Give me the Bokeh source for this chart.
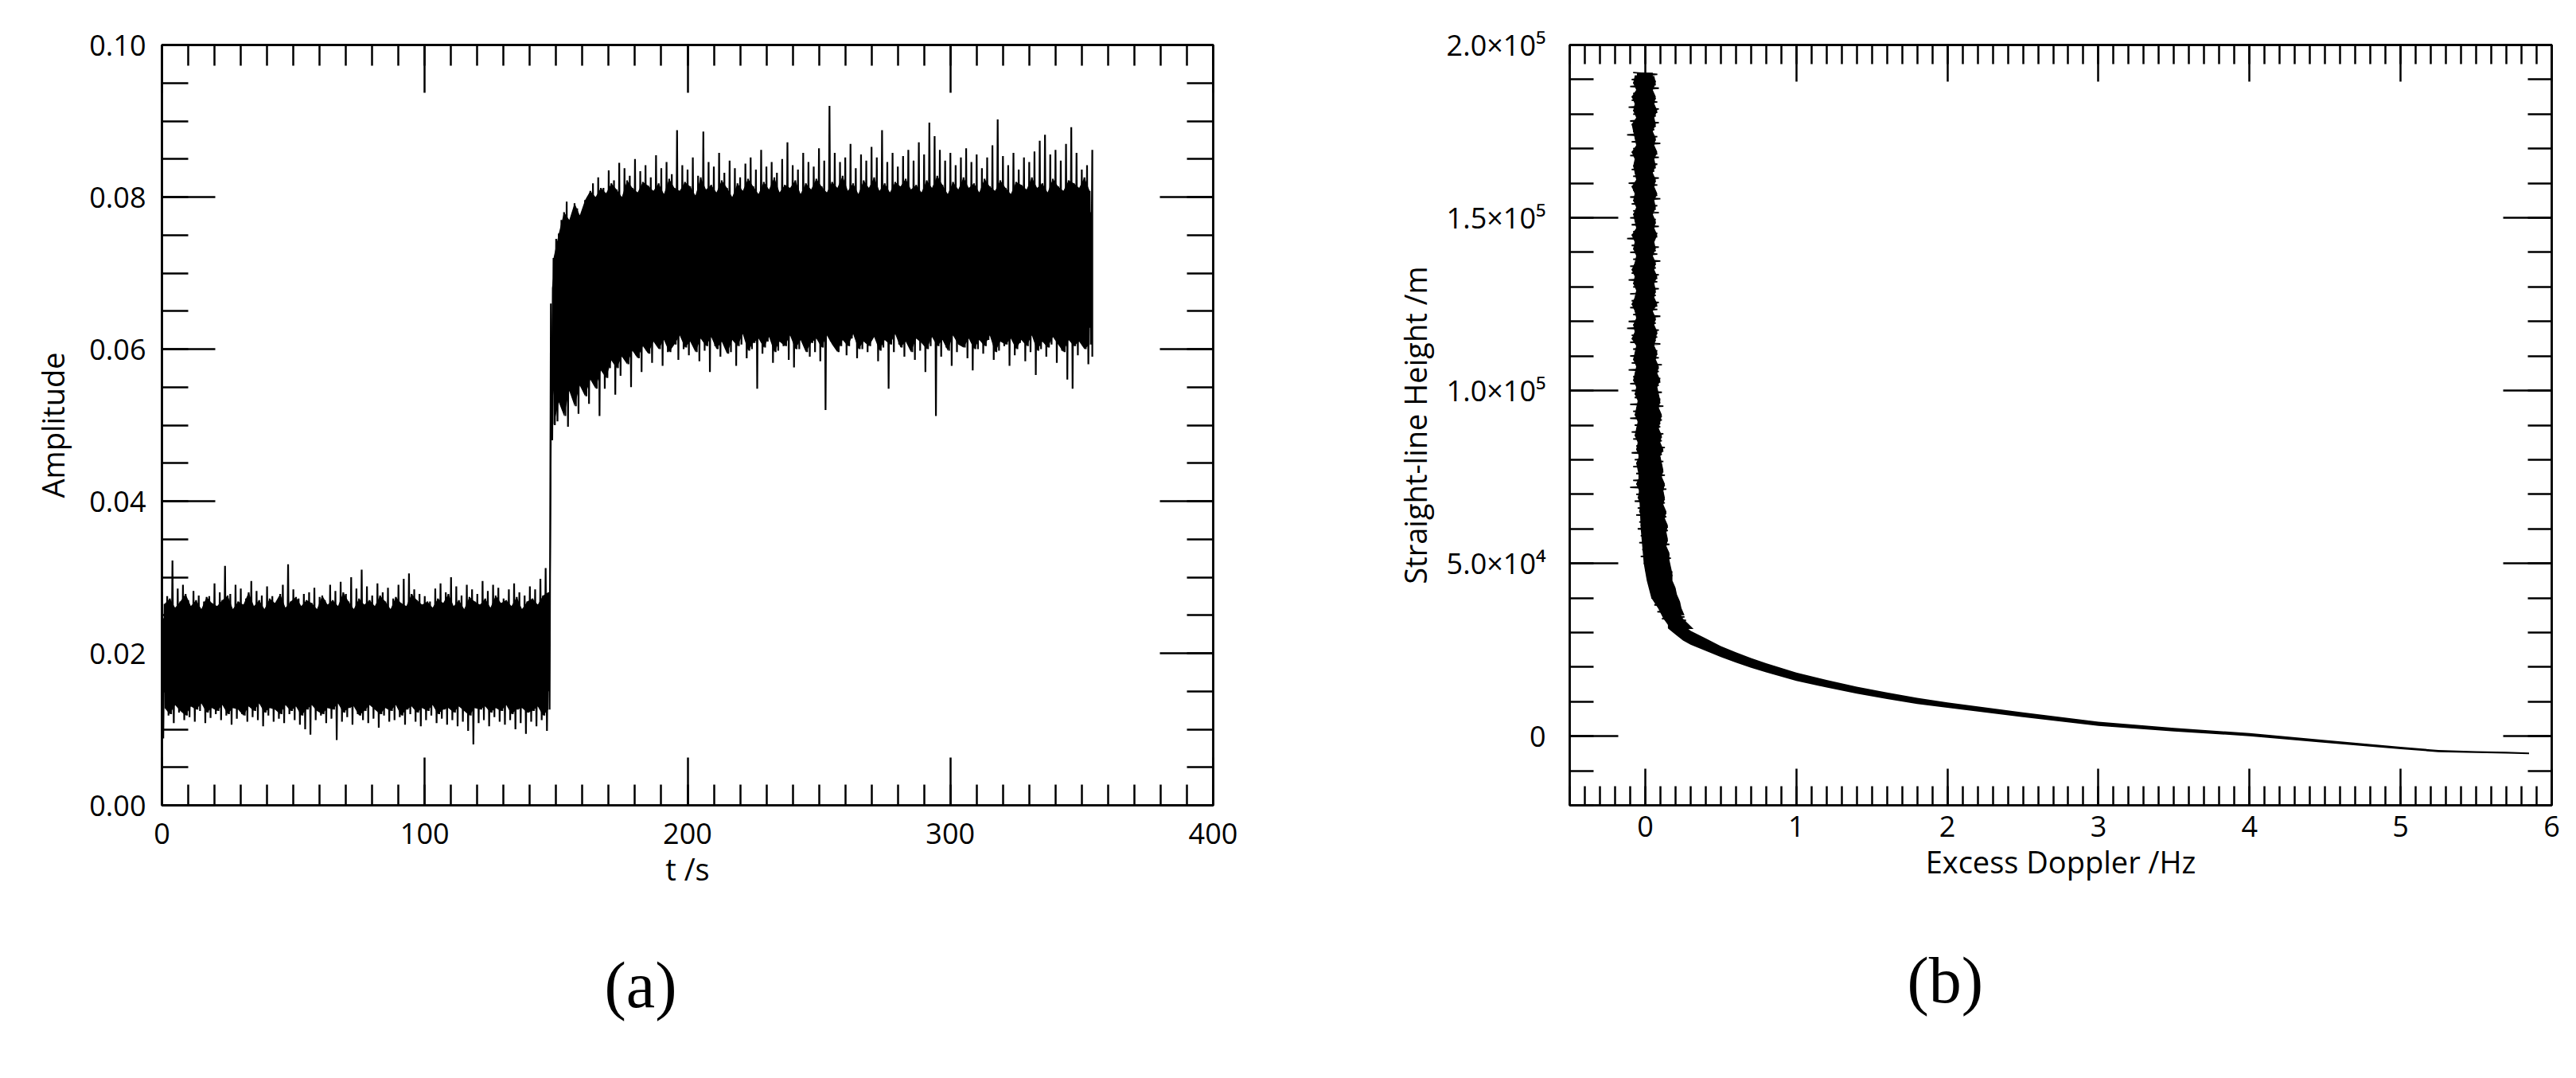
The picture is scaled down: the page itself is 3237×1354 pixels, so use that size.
import numpy as np
from bokeh.plotting import figure
from bokeh.models import (LinearAxis, SingleIntervalTicker, PrintfTickFormatter,
                          CustomJSTickFormatter, Range1d, Title)
from bokeh.layouts import row
from bokeh.embed import file_html
from bokeh.resources import INLINE

FONT = "Open Sans"

# ---------------- (a) amplitude vs time ----------------
# trace tips (units of 1e-4): hi at integer t, lo at t+0.5
# even seconds, t = 0..146 (quiet part)
amp_hi_a = [280, 275, 322, 285, 290, 270, 282, 276, 268, 275,
            292, 280, 315, 278, 290, 285, 272, 295, 282, 276,
            288, 275, 268, 290, 317, 284, 272, 278, 280, 286,
            274, 270, 290, 282, 294, 278, 300, 285, 310, 288,
            276, 292, 280, 286, 272, 290, 298, 305, 284, 278,
            275, 268, 285, 292, 280, 300, 288, 276, 290, 284,
            278, 295, 282, 290, 286, 272, 284, 292, 280, 276,
            288, 284, 298, 312]
amp_lo_a = [88, 118, 108, 122, 112, 116, 110, 124, 108, 115,
            120, 112, 118, 106, 114, 120, 110, 116, 112, 104,
            118, 110, 114, 108, 120, 112, 106, 100, 93, 112,
            118, 108, 114, 86, 110, 116, 106, 120, 112, 108,
            114, 102, 118, 110, 112, 116, 106, 120, 110, 104,
            112, 118, 108, 114, 106, 112, 104, 110, 98, 80,
            108, 112, 104, 116, 110, 106, 112, 100, 108, 94,
            110, 104, 112, 98]
# odd seconds, t = 1..147
amp_hi_a_odd = [265, 272, 260, 268, 278, 262, 270, 258, 274, 266,
                262, 270, 276, 258, 268, 264, 280, 262, 270, 258,
                272, 266, 278, 260, 268, 274, 262, 270, 266, 258,
                276, 264, 270, 262, 280, 268, 258, 272, 264, 270,
                262, 276, 268, 258, 274, 266, 262, 278, 270, 264,
                268, 260, 272, 266, 278, 262, 270, 258, 274, 268,
                264, 272, 260, 276, 266, 270, 262, 274, 258, 268,
                272, 264, 276, 280]
amp_lo_a_odd = [128, 120, 132, 124, 118, 130, 126, 134, 122, 128,
                124, 132, 120, 128, 126, 118, 130, 124, 134, 122,
                128, 126, 120, 132, 124, 130, 118, 126, 132, 124,
                120, 128, 126, 134, 122, 128, 130, 118, 124, 132,
                126, 120, 128, 124, 132, 118, 126, 130, 122, 128,
                124, 132, 120, 126, 128, 122, 130, 124, 118, 128,
                126, 130, 122, 128, 124, 132, 120, 126, 128, 122,
                124, 130, 118, 126]
# even seconds, t = 148..354 (after the step)
amp_hi_b = [660, 745, 770, 794, 765, 785, 772, 800, 818, 826,
            812, 835, 822, 845, 838, 828, 850, 834, 842, 826,
            855, 838, 846, 830, 888, 842, 836, 852, 828, 886,
            846, 840, 858, 832, 848, 838, 826, 844, 852, 836,
            862, 840, 846, 832, 850, 872, 842, 836, 858, 846,
            840, 864, 848, 920, 858, 846, 852, 870, 838, 856,
            848, 866, 852, 888, 846, 858, 840, 854, 862, 848,
            872, 856, 898, 880, 862, 848, 858, 842, 852, 864,
            846, 856, 838, 852, 868, 902, 854, 842, 858, 836,
            852, 846, 860, 874, 882, 856, 862, 848, 870, 892,
            858, 836, 842, 862]
amp_lo_b = [480, 505, 520, 498, 535, 515, 545, 528, 560, 512,
            548, 575, 540, 565, 585, 550, 592, 570, 598, 582,
            604, 578, 596, 610, 586, 600, 592, 612, 584, 598,
            570, 604, 590, 612, 596, 578, 606, 588, 600, 548,
            594, 610, 582, 598, 604, 586, 576, 600, 612, 590,
            596, 584, 520, 610, 636, 604, 592, 614, 588, 600,
            596, 616, 584, 602, 548, 596, 606, 590, 612, 586,
            598, 570, 604, 512, 590, 602, 578, 596, 610, 588,
            572, 600, 594, 612, 586, 598, 604, 578, 592, 608,
            584, 596, 566, 600, 590, 606, 582, 598, 560, 548,
            592, 604, 580, 590]
# odd seconds, t = 149..353
amp_hi_b_odd = [720, 752, 780, 770, 792, 776, 796, 808, 800, 812,
                805, 818, 810, 800, 822, 812, 806, 820, 815, 808,
                818, 804, 824, 812, 808, 820, 814, 802, 826, 810,
                816, 806, 822, 812, 800, 818, 808, 824, 814, 804,
                820, 810, 826, 806, 816, 812, 822, 804, 818, 810,
                824, 814, 806, 820, 812, 828, 808, 818, 804, 822,
                812, 826, 808, 818, 806, 820, 814, 824, 810, 816,
                806, 822, 812, 828, 816, 804, 820, 810, 826, 812,
                818, 806, 824, 814, 808, 822, 812, 804, 820, 816,
                810, 826, 812, 818, 806, 824, 814, 808, 822, 818,
                812, 826, 808]
amp_lo_b_odd = [500, 530, 512, 545, 525, 552, 538, 560, 548, 572,
                562, 585, 575, 590, 580, 598, 588, 604, 594, 610,
                600, 612, 596, 606, 618, 602, 610, 596, 614, 604,
                616, 600, 610, 594, 612, 604, 620, 598, 608, 614,
                602, 616, 596, 610, 604, 618, 600, 612, 596, 608,
                614, 602, 618, 606, 596, 612, 604, 620, 600, 610,
                604, 616, 598, 612, 606, 620, 602, 610, 596, 614,
                608, 600, 616, 604, 612, 598, 618, 606, 602, 614,
                600, 612, 604, 618, 596, 610, 606, 614, 600, 612,
                604, 618, 598, 610, 602, 616, 606, 596, 612, 604,
                610, 600, 606]
# dense core of the trace
t_core_a = [0, 147.6, 148.4, 150, 155, 160, 165, 170, 180, 200, 250, 300, 354]
core_lo_a = [150, 150, 530, 565, 580, 594, 604, 612, 620, 626, 630, 630, 628]
core_hi_a = [246, 246, 680, 728, 745, 756, 764, 770, 776, 780, 782, 782, 780]
t_end_a = 354

# ---------------- (b) height vs excess Doppler ----------------
# jitter tips (units of 0.01 Hz); left tips at h, right tips 500 m lower
h_top_b = 192000
dop_left_even = [-8, -9, -10, -8, -9, -11, -8, -10, -7, -12,
                 -9, -8, -10, -7, -9, -8, -11, -8, -10, -9,
                 -8, -10, -9, -8, -12, -9, -10, -8, -10, -9,
                 -11, -8, -10, -9, -10, -8, -11, -12, -9, -10,
                 -8, -10, -9, -11, -8, -10, -9, -7, -10, -8,
                 -10, -7, -9, -8, -6, -9, -7, -8, -6, -8,
                 -10, -6, -7, -5, -6, -4, -5, -3, -4, -2,
                 -3, -1, 0, 1, 2, 3, 4, 6, 8, 11]
dop_right_even = [8, 7, 9, 6, 8, 9, 7, 9, 6, 8,
                  10, 7, 9, 8, 6, 9, 8, 7, 10, 8,
                  9, 7, 9, 8, 6, 9, 8, 10, 7, 9,
                  8, 9, 7, 9, 8, 10, 7, 9, 8, 10,
                  8, 9, 11, 9, 10, 9, 11, 10, 12, 10,
                  11, 10, 12, 11, 13, 11, 12, 11, 13, 12,
                  14, 12, 13, 12, 14, 13, 15, 14, 16, 15,
                  17, 16, 18, 17, 19, 18, 20, 22, 25, 27]
dop_left_odd = [-7, -8, -6, -9, -7, -8, -6, -9, -8, -7,
                -6, -9, -7, -8, -7, -6, -9, -7, -8, -6,
                -8, -7, -6, -9, -7, -8, -6, -7, -9, -7,
                -8, -6, -7, -9, -7, -6, -8, -7, -9, -6,
                -7, -8, -6, -7, -8, -6, -7, -5, -6, -7,
                -5, -6, -7, -5, -6, -4, -6, -5, -4, -6,
                -4, -5, -3, -4, -2, -3, -1, -2, 0, -1,
                1, 2, 2, 4, 5, 6, 8, 10, 13]
dop_right_odd = [6, 7, 5, 7, 6, 8, 6, 7, 5, 7,
                 6, 8, 6, 7, 5, 7, 6, 8, 6, 7,
                 5, 7, 6, 8, 6, 7, 5, 7, 6, 8,
                 6, 7, 6, 8, 5, 7, 6, 8, 7, 6,
                 8, 7, 9, 8, 10, 8, 9, 10, 9, 11,
                 10, 9, 11, 10, 12, 10, 11, 12, 11, 13,
                 12, 13, 12, 14, 13, 15, 14, 15, 14, 16,
                 16, 17, 18, 18, 20, 21, 23, 24, 26]
h_core_b = [192000, 180000, 160000, 140000, 120000, 100000, 85000, 75000, 65000,
            60000, 55000, 50000, 45000, 40000, 37000, 34000, 31000]
core_left_b = [-0.055, -0.055, -0.06, -0.06, -0.055, -0.05, -0.045, -0.045, -0.035,
               -0.03, -0.02, -0.01, 0.01, 0.04, 0.085, 0.12, 0.17]
core_right_b = [0.05, 0.05, 0.045, 0.045, 0.045, 0.055, 0.065, 0.08, 0.085,
                0.09, 0.11, 0.13, 0.14, 0.16, 0.21, 0.25, 0.32]
curve_x_b = [0.15, 0.2, 0.25, 0.3, 0.4, 0.5, 0.6, 0.7, 0.8, 1.0, 1.2, 1.4, 1.6,
             1.8, 2.0, 2.5, 3.0, 3.5, 4.0, 4.5, 5.0, 5.25, 5.5, 5.7, 5.85]
curve_top_b = [36800, 34600, 32300, 30500, 28300, 26100, 24300, 22600, 21100, 18400,
               16300, 14300, 12650, 11100, 9800, 6900, 4200, 2420, 900, -1100,
               -3050, -4000, -4320, -4490, -4710]
curve_bot_b = [31200, 29400, 27700, 26500, 24700, 22900, 21300, 19800, 18500, 16000,
               14100, 12300, 10750, 9300, 8200, 5500, 3000, 1380, 0, -1900,
               -3750, -4600, -4880, -5010, -5190]
y_tick_labels_b = {0: "0", 50000: "5.0×10⁴", 100000: "1.0×10⁵",
                   150000: "1.5×10⁵", 200000: "2.0×10⁵"}

FIG_H = 1354


def style_axis(ax, major_in, minor_in, labels=True, standoff=10, label_standoff=10):
    ax.major_tick_in = major_in
    ax.major_tick_out = 0
    ax.minor_tick_in = minor_in
    ax.minor_tick_out = 0
    ax.axis_line_width = 2.5
    ax.axis_line_color = "black"
    ax.major_tick_line_width = 2.5
    ax.minor_tick_line_width = 2.5
    ax.major_tick_line_color = "black"
    ax.minor_tick_line_color = "black"
    ax.major_label_text_font = FONT
    ax.major_label_text_font_size = "36px"
    ax.major_label_text_color = "black"
    ax.axis_label_text_font = FONT
    ax.axis_label_text_font_size = "38px"
    ax.axis_label_text_font_style = "normal"
    ax.axis_label_text_color = "black"
    ax.major_label_standoff = standoff
    ax.axis_label_standoff = label_standoff
    if not labels:
        ax.formatter = CustomJSTickFormatter(code="return ''")
        ax.major_label_standoff = 0


def base_fig(width, xr, yr, bl, br, bt, bb):
    p = figure(width=width, height=FIG_H, x_range=xr, y_range=yr,
               output_backend="svg", toolbar_location=None, title=None,
               x_axis_type=None, y_axis_type=None,
               min_border_left=bl, min_border_right=br,
               min_border_top=bt, min_border_bottom=bb)
    p.outline_line_color = "black"
    p.outline_line_width = 2.5
    p.background_fill_color = "white"
    p.border_fill_color = "white"
    return p


def interleave(a, b):
    out = np.empty(len(a) + len(b))
    out[0::2] = a
    out[1::2] = b
    return out


def caption(text, offset, standoff):
    return Title(text=text, align="left", offset=offset, standoff=standoff,
                 text_font="Liberation Serif", text_font_size="82px",
                 text_font_style="normal", text_color="black")


# ----- figure (a): frame x 203..1524, y 56..1021
p1 = base_fig(1610, Range1d(0, 400), Range1d(0, 0.1), 203, 86, 56, FIG_H - 1021)

hi_even = np.array(amp_hi_a + amp_hi_b) / 1e4
lo_even = np.array(amp_lo_a + amp_lo_b) / 1e4
hi_odd = np.array(amp_hi_a_odd + amp_hi_b_odd) / 1e4
lo_odd = np.array(amp_lo_a_odd + amp_lo_b_odd) / 1e4
amp_hi = interleave(hi_even, hi_odd)
amp_lo = interleave(lo_even, lo_odd)
t_hi = np.arange(len(amp_hi)) * 1.0
t_lo = np.minimum(t_hi + 0.5, t_end_a)
zx = interleave(t_hi, t_lo)
zy = interleave(amp_hi, amp_lo)
t_odd = t_hi[1::2]

p1.varea(x=t_core_a, y1=np.array(core_lo_a) / 1e4, y2=np.array(core_hi_a) / 1e4,
         fill_color="black")
# jagged filled body through the odd-second tips
p1.varea(x=t_odd[:74], y1=lo_odd[:74], y2=hi_odd[:74], fill_color="black")
p1.varea(x=t_odd[74:], y1=lo_odd[74:], y2=hi_odd[74:], fill_color="black")
p1.line(x=zx, y=zy, line_color="black", line_width=2.2)

xa_b = LinearAxis(ticker=SingleIntervalTicker(interval=100, num_minor_ticks=10),
                  axis_label="t /s")
style_axis(xa_b, 60, 26, standoff=22, label_standoff=2)
p1.add_layout(xa_b, "below")
xa_t = LinearAxis(ticker=SingleIntervalTicker(interval=100, num_minor_ticks=10))
style_axis(xa_t, 60, 26, labels=False)
p1.add_layout(xa_t, "above")
ya_l = LinearAxis(ticker=SingleIntervalTicker(interval=0.02, num_minor_ticks=4),
                  axis_label="Amplitude", formatter=PrintfTickFormatter(format="%.2f"))
style_axis(ya_l, 67, 33, standoff=20, label_standoff=17)
p1.add_layout(ya_l, "left")
ya_r = LinearAxis(ticker=SingleIntervalTicker(interval=0.02, num_minor_ticks=4))
style_axis(ya_r, 67, 33, labels=False)
p1.add_layout(ya_r, "right")
p1.add_layout(caption("(a)", 556, 141), "below")

# ----- figure (b): frame x 1972..3206, y 34..1011
p2 = base_fig(1608, Range1d(-0.5, 6), Range1d(-20000, 200000), 362, 12, 34, FIG_H - 1011)

x_left = interleave(np.array(dop_left_even), np.array(dop_left_odd)) / 100.0
x_right = interleave(np.array(dop_right_even), np.array(dop_right_odd)) / 100.0
h_left = h_top_b - np.arange(len(x_left)) * 1000.0
h_right = h_left - 500.0
bx = interleave(x_left, x_right)
by = interleave(h_left, h_right)

p2.harea(y=h_core_b, x1=core_left_b, x2=core_right_b, fill_color="black")
# jagged filled body through the odd-step tips
p2.harea(y=h_left[1::2], x1=x_left[1::2], x2=x_right[1::2], fill_color="black")
p2.line(x=bx, y=by, line_color="black", line_width=1.8)
p2.varea(x=curve_x_b, y1=curve_bot_b, y2=curve_top_b, fill_color="black")

xb_b = LinearAxis(ticker=SingleIntervalTicker(interval=1, num_minor_ticks=10),
                  axis_label="Excess Doppler /Hz")
style_axis(xb_b, 46, 24, standoff=13, label_standoff=2)
p2.add_layout(xb_b, "below")
xb_t = LinearAxis(ticker=SingleIntervalTicker(interval=1, num_minor_ticks=10))
style_axis(xb_t, 46, 24, labels=False)
p2.add_layout(xb_t, "above")
yb_l = LinearAxis(ticker=SingleIntervalTicker(interval=50000, num_minor_ticks=5),
                  axis_label="Straight-line Height /m")
style_axis(yb_l, 61, 30, standoff=30, label_standoff=11)
yb_l.major_label_overrides = y_tick_labels_b
p2.add_layout(yb_l, "left")
yb_r = LinearAxis(ticker=SingleIntervalTicker(interval=50000, num_minor_ticks=5))
style_axis(yb_r, 61, 30, labels=False)
p2.add_layout(yb_r, "right")
p2.add_layout(caption("(b)", 424, 146), "below")

layout = row(p1, p2)
open("out.html", "w").write(file_html(layout, INLINE))
